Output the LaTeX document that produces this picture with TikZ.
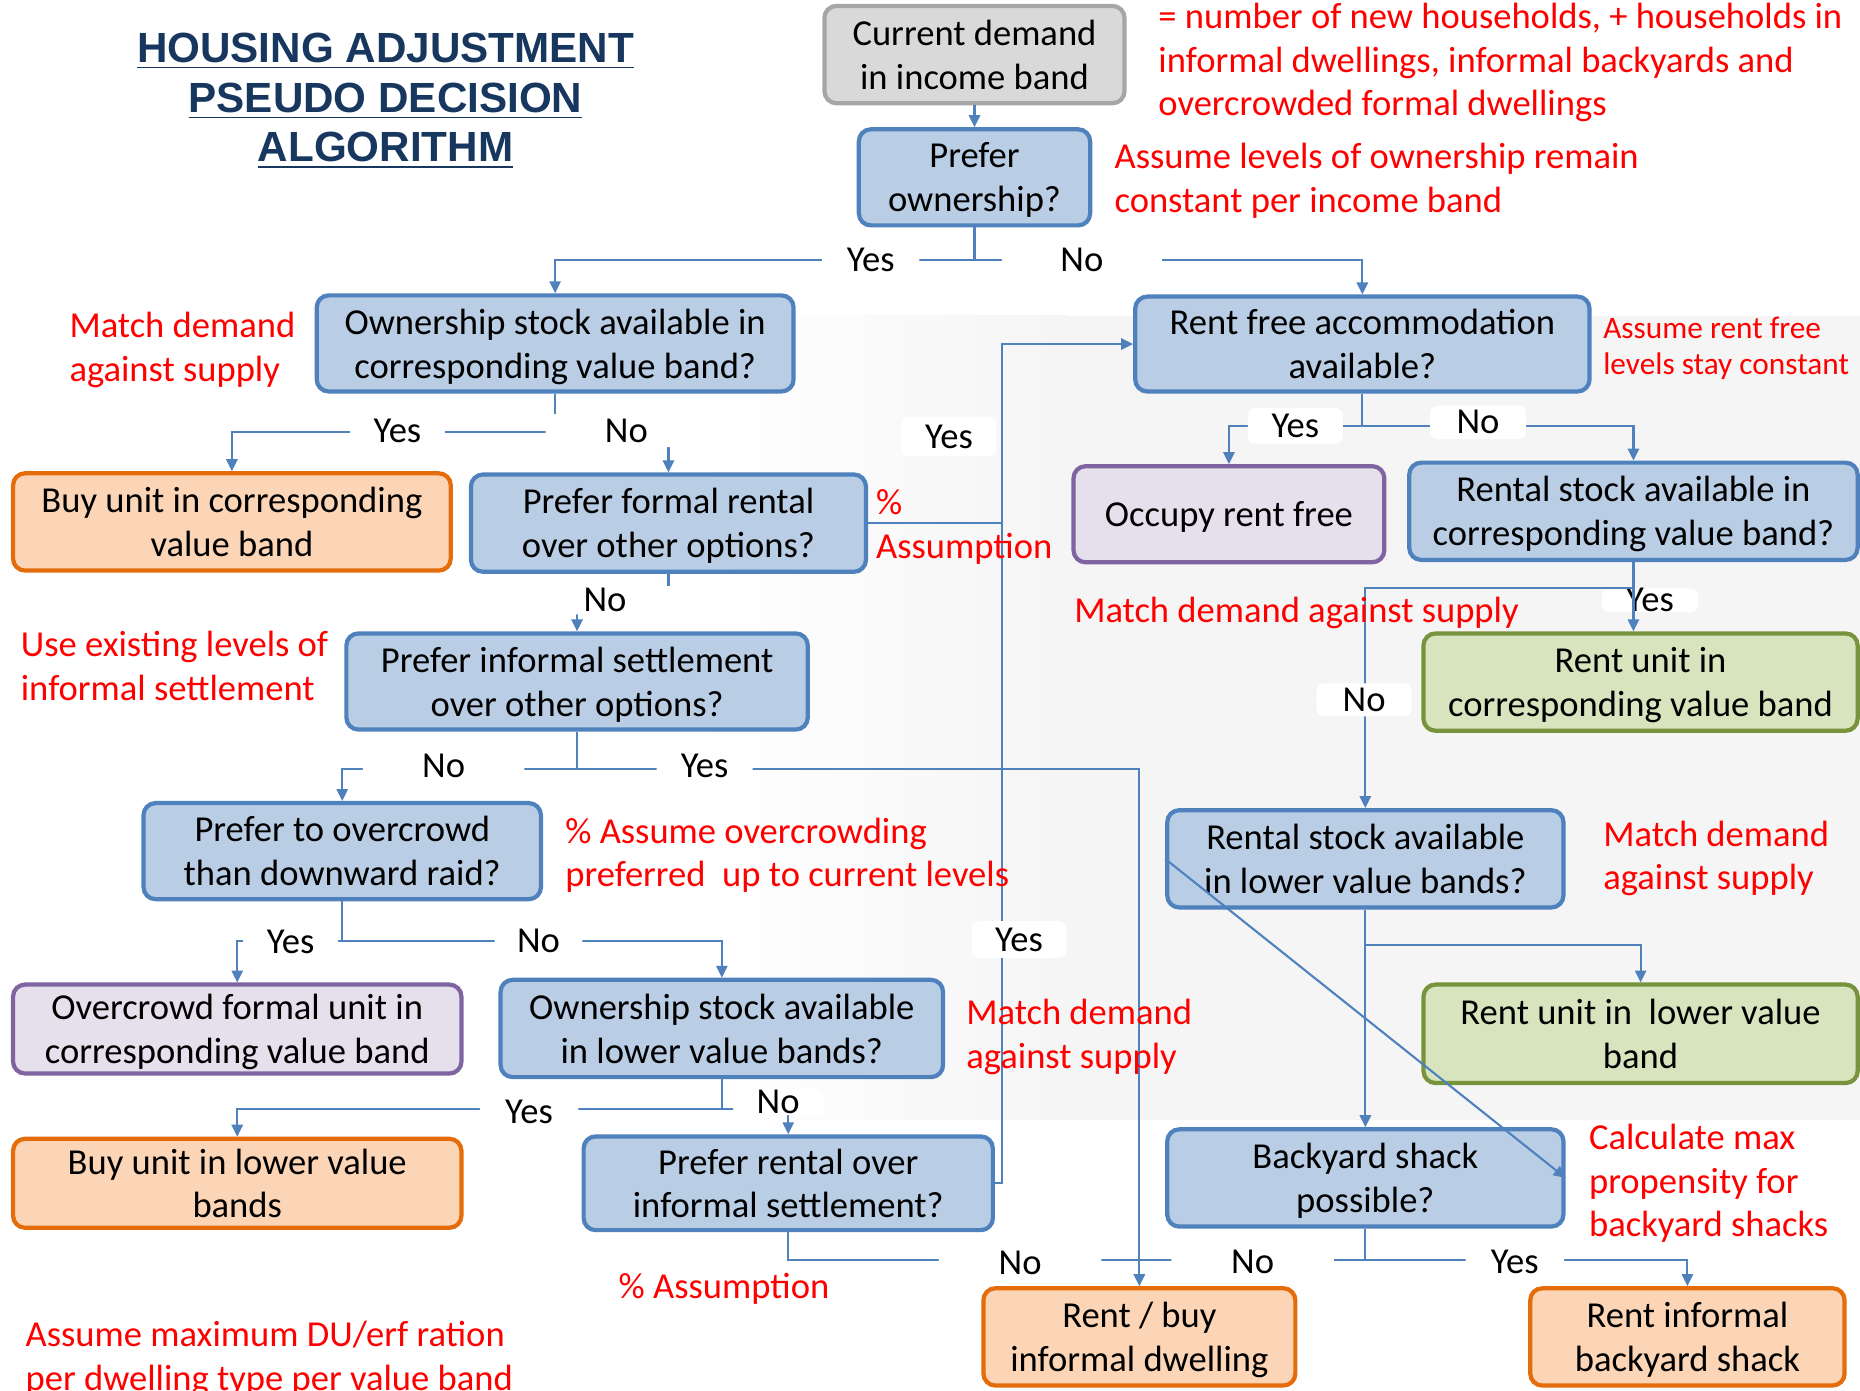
\documentclass[tikz,border=0pt]{standalone}
\usepackage{fontspec}
\setmainfont{Carlito}
\newfontfamily\headfont{Liberation Sans}
\usetikzlibrary{arrows.meta}

\definecolor{qfill}{HTML}{B9CDE5}
\definecolor{qline}{HTML}{4F81BD}
\definecolor{gfill}{HTML}{D9D9D9}
\definecolor{gline}{HTML}{A6A6A6}
\definecolor{ofill}{HTML}{FBD5B5}
\definecolor{oline}{HTML}{E46C0A}
\definecolor{pfill}{HTML}{E5E0EC}
\definecolor{pline}{HTML}{8064A2}
\definecolor{nfill}{HTML}{D7E4BD}
\definecolor{nline}{HTML}{77933C}
\definecolor{notered}{HTML}{FF0000}
\definecolor{headblue}{HTML}{17375E}

\def\dpx{0.011862cm}
\newcommand\flowfont{\fontsize{10.4}{12.5}\selectfont}
\newcommand\smallnotefont{\fontsize{8.9}{10.5}\selectfont}

\tikzset{
  box/.style={rounded corners=0.12cm, line width=1.2pt, align=center,
    font=\flowfont, inner sep=0pt, text=black, text depth=0pt},
  qbox/.style={box, draw=qline, fill=qfill},
  gbox/.style={box, draw=gline, fill=gfill},
  obox/.style={box, draw=oline, fill=ofill},
  pbox/.style={box, draw=pline, fill=pfill},
  nbox/.style={box, draw=nline, fill=nfill},
  conn/.style={draw=qline, line width=0.6pt, -{Triangle[length=3.4pt,width=3.2pt]}},
  link/.style={draw=qline, line width=0.6pt},
  lab/.style={fill=white, inner sep=0pt, font=\flowfont, text=black,
    rounded corners=2pt, minimum height=28*\dpx},
  note/.style={text=notered, font=\flowfont, align=left, inner sep=0pt,
    anchor=west, text depth=0pt},
  head/.style={text=headblue, font=\headfont\bfseries\fontsize{12}{14.1}\selectfont,
    align=center, inner sep=0pt, text depth=0pt}
}

\begin{document}
\begin{tikzpicture}[x=0.011862cm, y=-0.011862cm]
\useasboundingbox (0,0) rectangle (1568,1172);

% faint backdrop behind the right half
\shade[left color=white, right color=black!4] (600,266) rectangle (900,944);
\fill[black!4] (900,266) rectangle (1568,944);

% title
\node[head] (title) at (325,82)
  {\underline{HOUSING ADJUSTMENT}\\\underline{PSEUDO DECISION}\\\underline{ALGORITHM}};

% decision and outcome boxes
\node[gbox, minimum width=253*\dpx, minimum height=82*\dpx] (curdem) at (821.5,46)
  {Current demand\\in income band};
\node[qbox, minimum width=195*\dpx, minimum height=81*\dpx] (prefown) at (821.5,149.5)
  {Prefer\\ownership?};
\node[qbox, minimum width=402*\dpx, minimum height=81*\dpx] (ownstock) at (468,289.5)
  {Ownership stock available in\\corresponding value band?};
\node[qbox, minimum width=383*\dpx, minimum height=80*\dpx] (rentfree) at (1148.5,290)
  {Rent free accommodation\\available?};
\node[obox, minimum width=369*\dpx, minimum height=82*\dpx] (buycorr) at (195.5,440)
  {Buy unit in corresponding\\value band};
\node[qbox, minimum width=333*\dpx, minimum height=82*\dpx] (pfr) at (563.5,441)
  {Prefer formal rental\\over other options?};
\node[pbox, minimum width=262*\dpx, minimum height=81*\dpx] (occupy) at (1036,433.5)
  {Occupy rent free};
\node[qbox, minimum width=378*\dpx, minimum height=82*\dpx] (rsc) at (1377,431)
  {Rental stock available in\\corresponding value band?};
\node[qbox, minimum width=389*\dpx, minimum height=81*\dpx] (pis) at (486.5,574.5)
  {Prefer informal settlement\\over other options?};
\node[nbox, minimum width=366*\dpx, minimum height=82*\dpx] (rcv) at (1383,575)
  {Rent unit in\\corresponding value band};
\node[qbox, minimum width=335*\dpx, minimum height=81*\dpx] (ppo) at (288.5,717.5)
  {Prefer to overcrowd\\than downward raid?};
\node[qbox, minimum width=334*\dpx, minimum height=82*\dpx] (rsl) at (1151,724)
  {Rental stock available\\in lower value bands?};
\node[pbox, minimum width=378*\dpx, minimum height=75*\dpx] (ocf) at (200,867.5)
  {Overcrowd formal unit in\\corresponding value band};
\node[qbox, minimum width=373*\dpx, minimum height=82*\dpx] (osl) at (608.5,867)
  {Ownership stock available\\in lower value bands?};
\node[nbox, minimum width=366*\dpx, minimum height=83*\dpx] (rlv) at (1383,871.5)
  {Rent unit in~ lower value\\band};
\node[obox, minimum width=378*\dpx, minimum height=75*\dpx] (bul) at (200,997.5)
  {Buy unit in lower value\\bands};
\node[qbox, minimum width=345*\dpx, minimum height=79*\dpx] (pri) at (664.5,997.5)
  {Prefer rental over\\informal settlement?};
\node[qbox, minimum width=334*\dpx, minimum height=82*\dpx] (bys) at (1151,993)
  {Backyard shack\\possible?};
\node[obox, minimum width=263*\dpx, minimum height=82*\dpx] (rbid) at (960.5,1127)
  {Rent / buy\\informal dwelling};
\node[obox, minimum width=265*\dpx, minimum height=82*\dpx] (rib) at (1422.5,1127)
  {Rent informal\\backyard shack};

% vertical trunk of the "Yes" branches into the rent free question
\coordinate (trunk) at (845,0);

% this label sits under the branch line
\node[lab, minimum width=81*\dpx, minimum height=18*\dpx] (l19) at (1391,506) {Yes};

% connectors
\draw[conn] (curdem.south) -- (prefown.north);
\draw[conn] (prefown.south) -- (prefown.south |- 0,219) -| (ownstock.north);
\draw[conn] (prefown.south |- 0,219) -| (rentfree.north);

\draw[conn] (ownstock.south) -- (ownstock.south |- 0,364) -| (buycorr.north);
\draw[conn] (ownstock.south |- 0,364) -| (pfr.north);

\draw[link] (pfr.east) -- (pfr.east -| trunk);
\draw[conn] (pri.east) -| (trunk |- rentfree.west) -- (rentfree.west);

\draw[conn] (pfr.south) -- (pfr.south |- 0,506) -| (pis.north);

\draw[conn] (pis.south) -- (pis.south |- 0,648) -| (ppo.north);
\draw[conn] (pis.south |- 0,648) -| (rbid.north);

\draw[conn] (ppo.south) -- (ppo.south |- 0,793) -| (ocf.north);
\draw[conn] (ppo.south |- 0,793) -| (osl.north);

\draw[conn] (osl.south) -- (osl.south |- 0,935) -| (bul.north);
\draw[conn] (osl.south |- 0,935) -| (pri.north);

\draw[link] (pri.south) -- (pri.south |- 0,1062) -- (rbid.north |- 0,1062);
\draw[link] (bys.south) -- (bys.south |- 0,1062) -- (rbid.north |- 0,1062);
\draw[conn] (bys.south |- 0,1062) -| (rib.north);

\draw[conn] (rentfree.south) -- (rentfree.south |- 0,359) -| (occupy.north);
\draw[conn] (rentfree.south |- 0,359) -| (rsc.north);

\draw[conn] (rsc.south) -- (rsc.south |- rcv.north);
\draw[conn] (rsc.south |- 0,496) -| (rsl.north);

\draw[conn] (rsl.south) -- (bys.north);
\draw[conn] (rsl.south |- 0,797) -| (rlv.north);

\draw[conn] (rsl.west) -- (bys.east);

% branch labels
\node[lab, minimum width=82*\dpx]  (l1)  at (734,219)   {Yes};
\node[lab, minimum width=135*\dpx] (l2)  at (912,219)   {No};
\node[lab, minimum width=80*\dpx]  (l3)  at (335,363)   {Yes};
\node[lab, minimum width=136*\dpx] (l4)  at (528,363)   {No};
\node[lab, minimum width=120*\dpx, minimum height=24*\dpx] (l5) at (510,506) {No};
\node[lab, minimum width=136*\dpx] (l6)  at (374,646)   {No};
\node[lab, minimum width=81*\dpx]  (l7)  at (594,646)   {Yes};
\node[lab, minimum width=80*\dpx, minimum height=33*\dpx] (l8) at (800,368) {Yes};
\node[lab, minimum width=80*\dpx, minimum height=31*\dpx] (l9) at (859,792) {Yes};
\node[lab, minimum width=80*\dpx]  (l10) at (245,794)   {Yes};
\node[lab, minimum width=74*\dpx]  (l11) at (454,793)   {No};
\node[lab, minimum width=83*\dpx]  (l12) at (446,937)   {Yes};
\node[lab, minimum width=76*\dpx, minimum height=22*\dpx] (l13) at (656,929) {No};
\node[lab, minimum width=137*\dpx] (l14) at (860,1065)  {No};
\node[lab, minimum width=137*\dpx] (l15) at (1056,1064) {No};
\node[lab, minimum width=83*\dpx]  (l16) at (1277,1064) {Yes};
\node[lab, minimum width=80*\dpx, minimum height=30*\dpx] (l17) at (1092,359) {Yes};
\node[lab, minimum width=81*\dpx]  (l18) at (1246,356)  {No};
\node[lab, minimum width=80*\dpx]  (l20) at (1150,590)  {No};

% annotations
\node[note] (n1) at (976,50)
  {= number of new households, + households in\\informal dwellings, informal backyards and\\overcrowded formal dwellings};
\node[note] (n2) at (939,150) {Assume levels of ownership remain\\constant per income band};
\node[note] (n3) at (58,292) {Match demand\\against supply};
\node[note, font=\smallnotefont] (n4) at (1351,291.5) {Assume rent free\\levels stay constant};
\node[note] (n5) at (738,442) {\%\\Assumption};
\node[note] (n6) at (905,514) {Match demand against supply};
\node[note] (n7) at (17,561.5) {Use existing levels of\\informal settlement};
\node[note] (n8) at (476,718.5) {\% Assume overcrowding\\preferred~ up to current levels};
\node[note] (n9) at (1351,721) {Match demand\\against supply};
\node[note] (n10) at (814,871.5) {Match demand\\against supply};
\node[note] (n11) at (1339,995) {Calculate max\\propensity for\\backyard shacks};
\node[note] (n12) at (521,1084) {\% Assumption};
\node[note] (n13) at (21,1143) {Assume maximum DU/erf ration\\per dwelling type per value band};
\end{tikzpicture}
\end{document}
